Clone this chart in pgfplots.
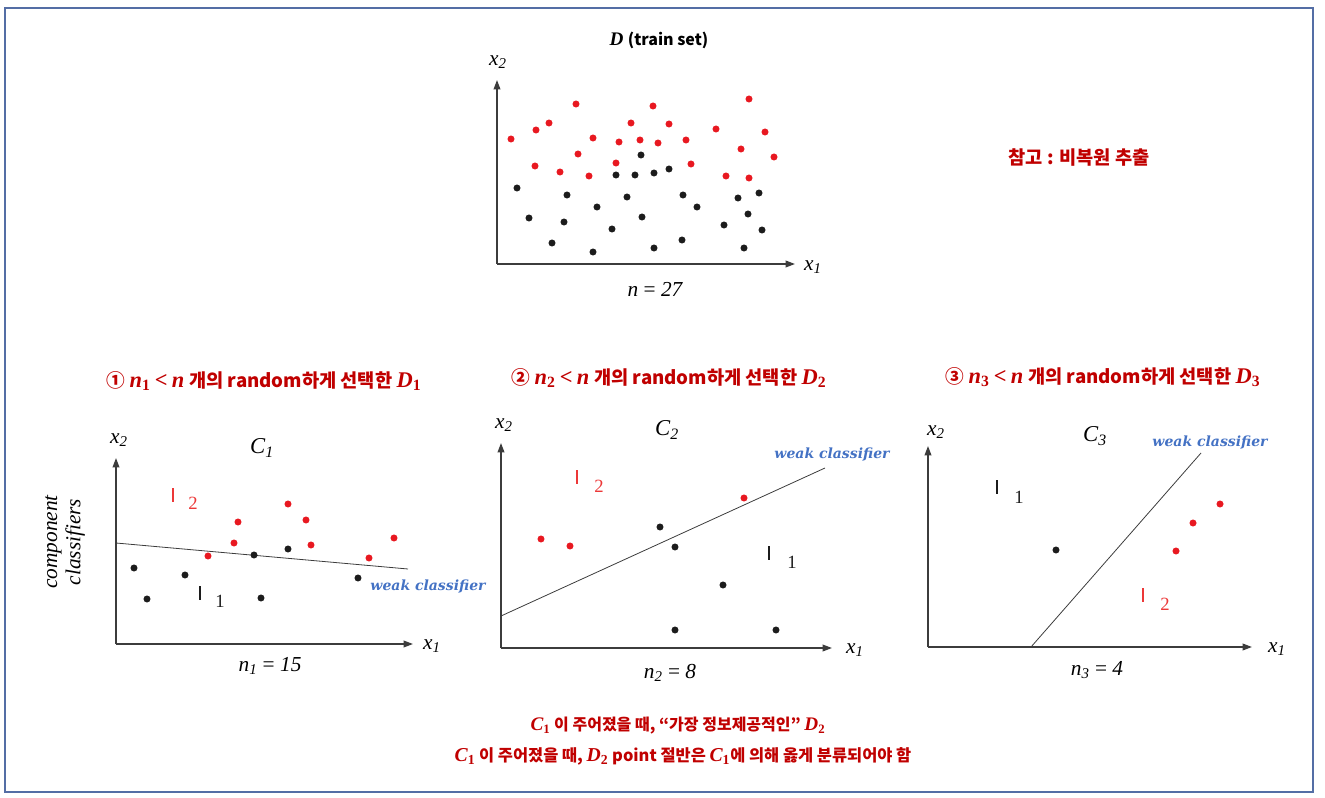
\documentclass[border=0pt]{standalone}
\usepackage{pgfplots}
\pgfplotsset{compat=1.18}
\usepackage{fontspec}
\usetikzlibrary{arrows.meta}
\setmainfont{Liberation Serif}
\newfontfamily\kr{Noto Sans CJK KR}
\newfontfamily\dvs{DejaVu Serif}
\newfontfamily\bvf{Liberation Serif}[Scale=1.2]
\newcommand\fs[1]{\fontsize{#1}{#1}\selectfont}

\definecolor{frame}{RGB}{84,110,165}
\definecolor{tred}{RGB}{192,0,0}
\definecolor{ptred}{RGB}{232,24,32}
\definecolor{ptblk}{RGB}{28,28,28}
\definecolor{axgray}{RGB}{60,60,60}
\definecolor{wblue}{RGB}{68,114,196}
\definecolor{lblred}{RGB}{236,56,56}

\pgfplotsset{
  diag/.style={
    scale only axis, anchor=south west,
    axis lines=left, xmin=0, ymin=0,
    xtick=\empty, ytick=\empty, clip=false,
    axis line style={draw=axgray, line width=1.1pt, -{Triangle[length=7pt,width=5pt]}},
  },
  red pts/.style={only marks, mark=*, mark size=2.4pt, color=ptred},
  blk pts/.style={only marks, mark=*, mark size=2.4pt, color=ptblk},
  sep line/.style={no marks, color=axgray, line width=0.6pt},
}

\newcommand\xl[1]{{\itshape x}\textsubscript{\itshape #1}}
% bold italic symbol with bold subscript
\newcommand\bv[2]{{\bvf\bfseries\itshape #1}\textsubscript{\bvf\bfseries #2}}
\newcommand\lt{{\bvf\bfseries <}}
\newcommand\wk{\dvs\bfseries\itshape}

\begin{document}
\begin{tikzpicture}[x=0.75pt,y=-0.75pt]
\useasboundingbox (0,0) rectangle (1325,798);
\draw[frame, line width=1.5pt] (5,8) rectangle (1313,792);

% ---- top: full training set
\begin{axis}[diag, at={(372.75pt,-198pt)}, width=223.5pt, height=138pt, xmax=298, ymax=184]
\addplot[red pts] coordinates {
 (14,125)(39,134)(52,141)(79,160)(38,98)(63,92)(81,110)(96,126)(92,88)
 (122,122)(119,101)(134,141)(143,124)(156,158)(161,121)(172,140)(189,124)
 (194,100)(219,135)(229,88)(244,115)(252,165)(252,86)(268,132)(277,107)};
\addplot[blk pts] coordinates {
 (20,76)(32,46)(55,21)(70,69)(67,42)(96,12)(100,57)(115,35)(119,89)(130,67)
 (138,89)(144,109)(145,47)(157,91)(157,16)(172,95)(185,24)(186,69)(200,57)
 (227,39)(241,66)(247,16)(251,50)(262,71)(265,34)};
\end{axis}
\node[font=\fs{12pt}\kr\bfseries] at (659,40) {\bv{D}{} (train set)};
\node[font=\fs{16pt}] at (498,62) {\xl{2}};
\node[font=\fs{16pt}] at (813,267) {\xl{1}};
\node[font=\fs{16pt}] at (655,289) {{\itshape n} = {\itshape 27}};
\node[font=\fs{14pt}\kr\bfseries, text=tred] at (1079,158) {참고 : 비복원 추출};

% ---- component classifier 1
\begin{axis}[diag, at={(87pt,-483pt)}, width=222.75pt, height=139.5pt, xmax=297, ymax=186]
\addplot[sep line] coordinates {(0,101)(292,75)};
\addplot[red pts] coordinates {(172,140)(122,122)(190,124)(118,101)(195,99)(92,88)(253,86)(278,106)};
\addplot[blk pts] coordinates {(18,76)(31,45)(69,69)(138,89)(172,95)(145,46)(242,66)};
\end{axis}
\node[font=\fs{14pt}\kr\bfseries, text=tred] at (264,381) {① \bv{n}{1} \lt{} \bv{n}{} 개의 random하게 선택한 \bv{D}{1}};
\node[font=\fs{16pt}] at (119,440) {\xl{2}};
\node[font=\fs{16pt}] at (432,646) {\xl{1}};
\node[font=\fs{17pt}] at (262,448) {{\itshape C}\textsubscript{\itshape 1}};
\node[font=\fs{16pt}] at (270,666) {{\itshape n}\textsubscript{\itshape 1} = {\itshape 15}};
\node[rotate=90, align=center, font=\fontsize{16pt}{17.5pt}\selectfont\itshape] at (65,542) {component\\classifiers};
\node[text=lblred] at (173,495) {\rule{0.9pt}{10pt}};
\node[font=\fs{14pt}, text=lblred] at (193,503) {2};
\node[text=ptblk] at (200,593) {\rule{0.9pt}{10pt}};
\node[font=\fs{14pt}, text=ptblk] at (220,601) {1};
\node[font=\fs{10.5pt}\wk, text=wblue] at (428,587) {weak classifier};

% ---- component classifier 2
\begin{axis}[diag, at={(375.75pt,-486pt)}, width=248.25pt, height=153.75pt, xmax=331, ymax=205]
\addplot[sep line] coordinates {(0,32)(324,180)};
\addplot[red pts] coordinates {(40,109)(69,102)(243,150)};
\addplot[blk pts] coordinates {(159,121)(174,101)(222,63)(174,18)(275,18)};
\end{axis}
\node[font=\fs{14pt}\kr\bfseries, text=tred] at (669,378) {② \bv{n}{2} \lt{} \bv{n}{} 개의 random하게 선택한 \bv{D}{2}};
\node[font=\fs{16pt}] at (504,425) {\xl{2}};
\node[font=\fs{16pt}] at (855,650) {\xl{1}};
\node[font=\fs{17pt}] at (667,430) {{\itshape C}\textsubscript{\itshape 2}};
\node[font=\fs{16pt}] at (670,673) {{\itshape n}\textsubscript{\itshape 2} = {\itshape 8}};
\node[text=lblred] at (577,477) {\rule{0.9pt}{10pt}};
\node[font=\fs{14pt}, text=lblred] at (599,486) {2};
\node[text=ptblk] at (769,553) {\rule{0.9pt}{10pt}};
\node[font=\fs{14pt}, text=ptblk] at (792,562) {1};
\node[font=\fs{10.5pt}\wk, text=wblue] at (832,455) {weak classifier};

% ---- component classifier 3
\begin{axis}[diag, at={(696pt,-485.25pt)}, width=243pt, height=150.75pt, xmax=324, ymax=201]
\addplot[sep line] coordinates {(103,0)(273,194)};
\addplot[blk pts] coordinates {(128,97)};
\addplot[red pts] coordinates {(292,143)(265,124)(248,96)};
\end{axis}
\node[font=\fs{14pt}\kr\bfseries, text=tred] at (1103,377) {③ \bv{n}{3} \lt{} \bv{n}{} 개의 random하게 선택한 \bv{D}{3}};
\node[font=\fs{16pt}] at (936,432) {\xl{2}};
\node[font=\fs{16pt}] at (1277,649) {\xl{1}};
\node[font=\fs{17pt}] at (1095,436) {{\itshape C}\textsubscript{\itshape 3}};
\node[font=\fs{16pt}] at (1097,670) {{\itshape n}\textsubscript{\itshape 3} = {\itshape 4}};
\node[text=ptblk] at (997,487) {\rule{0.9pt}{10pt}};
\node[font=\fs{14pt}, text=ptblk] at (1019,497) {1};
\node[text=lblred] at (1143,595) {\rule{0.9pt}{10pt}};
\node[font=\fs{14pt}, text=lblred] at (1165,604) {2};
\node[font=\fs{10.5pt}\wk, text=wblue] at (1210,443) {weak classifier};

% ---- notes
\node[font=\fs{12pt}\kr\bfseries, text=tred] at (678,726) {\bv{C}{1} 이 주어졌을 때, “가장 정보제공적인” \bv{D}{2}};
\node[font=\fs{12.3pt}\kr\bfseries, text=tred] at (683,756) {\bv{C}{1} 이 주어졌을 때, \bv{D}{2} point 절반은 \bv{C}{1}에 의해 옳게 분류되어야 함};
\end{tikzpicture}
\end{document}
